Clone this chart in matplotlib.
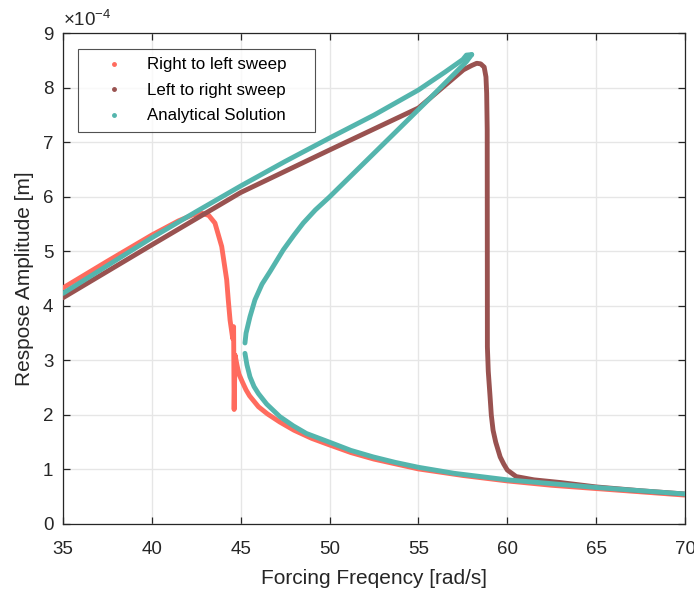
import matplotlib
matplotlib.use("Agg")
import matplotlib.pyplot as plt
from matplotlib.lines import Line2D

plt.rcParams['font.family'] = ['Liberation Sans', 'DejaVu Sans']
plt.rcParams['mathtext.fontset'] = 'custom'
plt.rcParams['mathtext.rm'] = 'Liberation Sans'
plt.rcParams['mathtext.it'] = 'Liberation Sans'

# ---- data (amplitude in units of 1e-4 m) ----
# Right to left sweep
rl_freq = [35.0, 37.5, 40.0, 41.5, 42.3, 42.8, 43.2, 43.55, 43.93, 44.21, 44.3, 44.4,
           44.55, 44.6, 44.63, 44.68, 44.8, 44.9, 45.1, 45.3, 45.5, 46.0, 46.5, 47.2, 48.0,
           49.0, 50.0, 51.2, 52.5, 55.0, 57.5, 60.0, 62.5, 65.0, 67.5, 70.0]
rl_amp = [4.33, 4.82, 5.30, 5.56, 5.67, 5.70, 5.66, 5.52, 5.09, 4.48, 4.11, 3.74,
          3.40, 3.62, 2.10, 3.10, 2.90, 2.75, 2.60, 2.46, 2.35, 2.15, 2.02, 1.87, 1.72,
          1.57, 1.45, 1.31, 1.19, 1.01, 0.89, 0.79, 0.71, 0.65, 0.59, 0.53]

# Left to right sweep
lr_freq = [35.0, 40.0, 45.0, 50.0, 55.0, 57.53, 58.0, 58.28, 58.5, 58.7, 58.8, 58.84,
           58.87, 58.88, 58.93, 59.03, 59.1, 59.2, 59.35, 59.6, 59.8, 60.0, 60.5, 61.5,
           63.0, 65.0, 67.5, 70.0]
lr_amp = [4.15, 5.12, 6.08, 6.86, 7.63, 8.33, 8.41, 8.45, 8.44, 8.38, 8.20, 7.90,
          7.23, 3.25, 2.80, 2.34, 2.00, 1.72, 1.50, 1.23, 1.10, 0.99, 0.87, 0.81,
          0.76, 0.68, 0.61, 0.55]

# Analytical solution: lower stable branch, unstable branch, upper branch
an_freq = [70.0, 67.5, 65.0, 62.5, 60.0, 59.0, 57.0, 55.0, 53.7, 52.46, 51.2, 50.0,
           48.7, 47.96, 47.2, 46.46, 46.0, 45.75, 45.52, 45.35, 45.24]
an_amp = [0.55, 0.61, 0.67, 0.74, 0.81, 0.85, 0.93, 1.04, 1.13, 1.23, 1.35, 1.50,
          1.66, 1.80, 1.97, 2.20, 2.39, 2.52, 2.70, 2.92, 3.13]
an_mid_freq = [45.24, 45.3, 45.52, 45.8, 46.2, 46.65, 47.4, 48.0, 48.52, 49.2, 50.0,
               51.0, 52.5, 54.0, 55.65, 57.0, 57.7, 58.0]
an_mid_amp = [3.32, 3.50, 3.80, 4.11, 4.40, 4.63, 5.03, 5.30, 5.52, 5.76, 6.00,
              6.32, 6.80, 7.28, 7.81, 8.25, 8.48, 8.61]
an_up_freq = [58.0, 57.7, 57.5, 56.5, 55.0, 52.5, 50.0, 47.5, 45.0, 42.5, 40.0, 37.5, 35.0]
an_up_amp = [8.61, 8.60, 8.52, 8.29, 7.96, 7.50, 7.08, 6.65, 6.20, 5.73, 5.25, 4.74, 4.23]

labels = ['Right to left sweep', 'Left to right sweep', 'Analytical Solution']
colors = ['#FF6B5E', '#995250', '#54B5AD']

xticks = [35, 40, 45, 50, 55, 60, 65, 70]
yticks = [0, 1, 2, 3, 4, 5, 6, 7, 8, 9]

fig = plt.figure(figsize=(6.94, 5.89), dpi=100)
ax = fig.add_axes([63/694, 65/589, 622/694, 490.7/589])

lw = 3.5
kw = dict(lw=lw, solid_capstyle='round', solid_joinstyle='round')
ax.plot(rl_freq, rl_amp, color=colors[0], zorder=3, **kw)
ax.plot(lr_freq, lr_amp, color=colors[1], zorder=4, **kw)
ax.plot(an_freq, an_amp, color=colors[2], zorder=5, **kw)
ax.plot(an_mid_freq, an_mid_amp, color=colors[2], zorder=5, **kw)
ax.plot(an_up_freq, an_up_amp, color=colors[2], zorder=5, **kw)

ax.set_xlim(35, 70)
ax.set_ylim(0, 9)
ax.set_xticks(xticks)
ax.set_yticks(yticks)
ax.set_xticklabels([str(t) for t in xticks])
ax.set_yticklabels([str(t) for t in yticks])

ax.grid(True, color='#E6E6E6', lw=1.0)
ax.set_axisbelow(True)
for s in ax.spines.values():
    s.set_color('#262626')
    s.set_linewidth(0.9)
ax.tick_params(direction='in', length=5, width=0.9, color='#262626',
               top=True, right=True, labelsize=13.5, labelcolor='#262626')
ax.tick_params(axis='x', pad=12)
ax.tick_params(axis='y', pad=7)

ax.set_xlabel('Forcing Freqency [rad/s]', fontsize=15, color='#262626', labelpad=8)
ax.set_ylabel('Respose Amplitude [m]', fontsize=15, color='#262626', labelpad=6)

ax.text(0.0, 1.006, r'$\times10^{-4}$', transform=ax.transAxes, fontsize=13.5,
        color='#262626', ha='left', va='bottom')

handles = [Line2D([], [], ls='none', marker='.', markersize=5, color=c) for c in colors]
leg = ax.legend(handles, labels, loc='upper left',
                bbox_to_anchor=(15/622, 0.0, 237/622, (524-49)/490.7),
                mode='expand', borderaxespad=0, fontsize=12.2,
                borderpad=0.5, handlelength=3.25, handletextpad=0.35,
                labelspacing=0.62, fancybox=False, frameon=True)
leg.get_frame().set_edgecolor('#262626')
leg.get_frame().set_linewidth(0.8)
for t in leg.get_texts():
    t.set_color('#000000')

fig.savefig('out.png', dpi=100)
